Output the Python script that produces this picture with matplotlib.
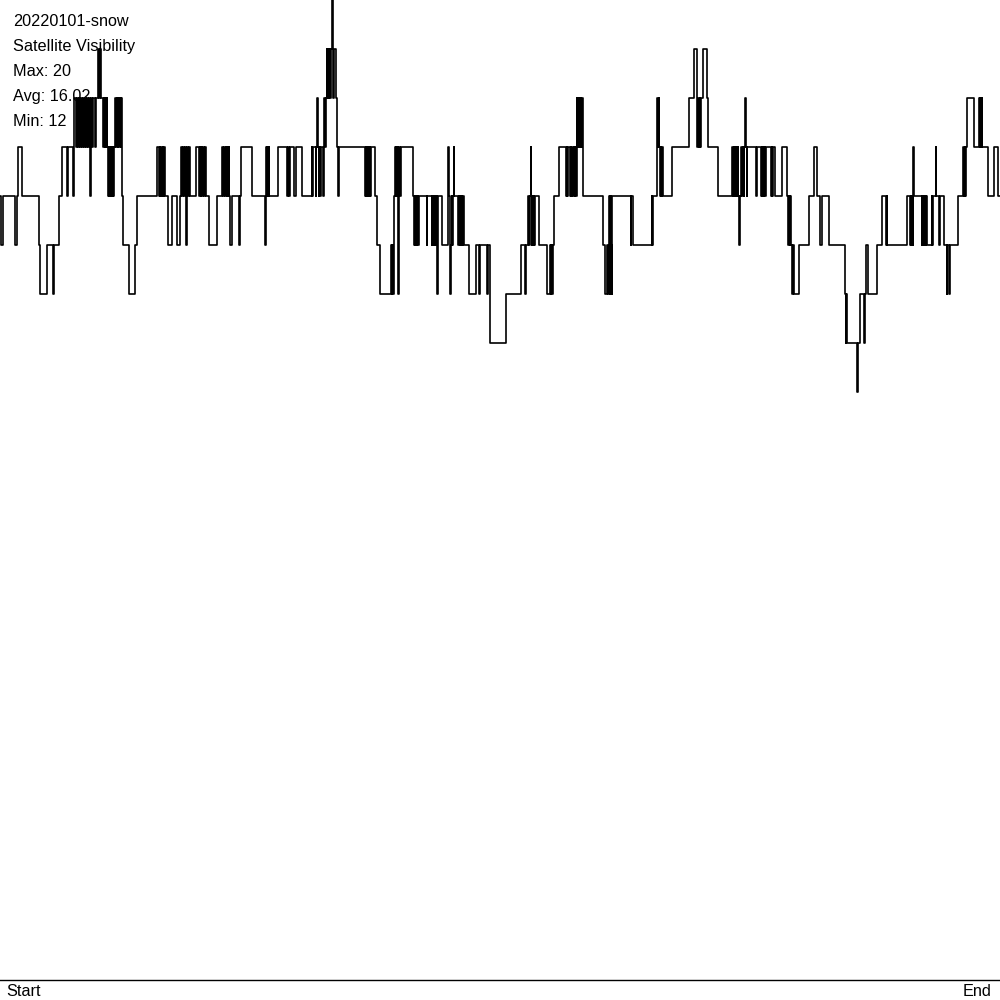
import matplotlib
matplotlib.use("Agg")
import matplotlib.pyplot as plt

# satellite count over the day, (time, count) at each change, time in 0..1000
part1 = [(0, 16), (1, 15), (3, 16), (15, 15), (16.5, 16), (17.5, 17), (21.7, 16), (38.5, 15), (39.5, 14),
         (47, 15), (53, 14), (54.3, 15), (58.5, 16), (61.7, 17), (66.7, 16), (68.3, 17), (72.7, 16), (73.7, 17),
         (74.3, 18), (76, 17), (77.3, 18), (78.3, 17), (79.3, 18), (80, 17), (81, 18), (82, 17), (83, 18),
         (84, 17), (85, 18), (86, 17), (87, 18), (88, 17), (89, 18), (90, 16), (90.7, 17), (91.3, 18), (92, 17),
         (92.7, 18), (95, 17), (95.7, 18), (98, 19), (99, 18), (99.7, 19), (100.7, 18), (103, 17), (103.7, 18),
         (104.5, 17), (105.3, 18), (106, 17), (106.7, 18), (107.3, 17), (108, 16), (108.7, 17), (109.3, 16),
         (110, 17), (110.7, 16), (111.3, 17), (112, 16), (112.7, 17), (113.3, 16), (114, 17), (114.7, 18),
         (116, 17), (116.7, 18), (117.5, 17), (118.3, 18), (119, 17), (119.7, 18), (120.5, 17), (121.3, 18),
         (122, 16), (123.3, 15), (129.3, 14), (135, 15), (136.7, 16)]
part2 = [(156.7, 17), (159, 16), (159.7, 17), (160.3, 16), (161, 17), (162.3, 16), (162.7, 17), (163.3, 16),
         (164.3, 17), (165, 16), (168.3, 15), (172.3, 16), (177.3, 15), (180, 16), (181, 17), (182, 16), (183, 17),
         (184, 16), (185, 17), (186, 15), (186.7, 16), (187.3, 17), (188, 16), (189, 17), (190, 16), (195.7, 17),
         (199, 16), (199.7, 17), (200.5, 16), (201.3, 17), (202, 16), (203, 17), (204, 16), (205, 17), (206, 16),
         (209, 15), (216.7, 16), (221.7, 17), (223.3, 16), (224, 17), (225, 16), (225.5, 17), (226.7, 16),
         (227.3, 17), (228, 16), (228.5, 17), (229.3, 16), (229.7, 15), (231.7, 16), (239, 15), (239.7, 16),
         (240.7, 17), (252.3, 16), (265, 15), (265.7, 16), (266, 17), (266.7, 16), (267.3, 17), (268, 16),
         (268.7, 17), (269.3, 16), (277.7, 17), (287.3, 16), (288.2, 17), (289, 16), (290, 17), (294.3, 16),
         (295.7, 17), (301.7, 16), (311.7, 17), (312.3, 16), (313, 17), (315.7, 16), (316.3, 17), (316.7, 18),
         (318, 17), (318.5, 16), (319, 17), (320, 16), (320.5, 17), (323.3, 16), (323.8, 17), (324.3, 18),
         (325, 17), (325.7, 18), (326.7, 19), (327.3, 18), (328, 19), (328.7, 18), (329.3, 19), (330, 18),
         (330.7, 19), (332.3, 20), (332.8, 19), (333.3, 18), (334.3, 19), (335.7, 18), (337.3, 17), (338, 16),
         (338.5, 17)]
part3 = [(365, 16), (365.7, 17), (366.3, 16), (367, 17), (367.7, 16), (368.3, 17), (369, 16), (369.7, 17),
         (370.3, 16), (370.7, 17), (375, 16), (376.7, 15), (380, 14), (391, 15), (391.7, 14), (392.3, 15),
         (393, 14), (393.5, 15), (394.3, 16), (395, 17), (395.7, 16), (396.3, 17), (397, 16), (397.7, 17),
         (398.3, 14), (398.7, 16), (399.3, 17), (400, 16), (400.7, 17), (413.3, 16), (414, 15), (414.7, 16),
         (415.3, 15), (416, 16), (416.7, 15), (417.3, 16), (418, 15), (418.7, 16), (426.7, 15), (427.2, 16),
         (431.7, 15), (432.3, 16), (433, 15), (433.7, 16), (434.3, 15), (435, 16), (435.7, 15), (436.3, 16),
         (437.3, 14), (437.8, 15), (438.3, 16), (441.7, 15), (448.3, 17), (449, 16), (449.7, 15), (450.3, 14),
         (450.8, 15), (451.5, 16), (452.2, 15), (453, 16), (453.5, 17), (454.3, 16), (458.3, 15), (459, 16),
         (459.7, 15), (460.3, 16), (461, 15), (461.7, 16), (462.3, 15), (463, 16), (464, 15), (469.3, 14),
         (475.7, 15), (479, 14), (480.3, 15), (486.7, 14), (488, 15), (490, 13)]
part4 = [(506, 14), (520.7, 15), (525, 14), (526, 15), (528.3, 16), (529, 15), (529.7, 16), (530.5, 17),
         (531, 16), (531.7, 15), (532.3, 16), (533, 15), (533.7, 16), (534.3, 15), (535, 16), (539.3, 15),
         (546.7, 14), (550, 15), (550.7, 14), (551.3, 15), (552, 14), (552.7, 15), (554.3, 16), (559.3, 17),
         (566, 16), (566.7, 17), (567.3, 16), (568, 17), (570, 16), (570.7, 17), (571.3, 16), (572, 17),
         (573.3, 16), (574, 17), (574.7, 16), (575.3, 17), (576, 16), (576.7, 18), (577.3, 17), (578, 18),
         (578.7, 17), (579.3, 18), (580, 17), (580.7, 18), (581.3, 17), (582, 18), (582.7, 16), (603.3, 15),
         (605, 14), (606.7, 15), (608.3, 14), (609, 16), (609.7, 14), (610.3, 16), (611, 15), (611.7, 14),
         (612.3, 16), (630.7, 15), (631.3, 16), (633.3, 15), (651.7, 16), (652.3, 15), (653, 16), (656.7, 17),
         (657.3, 18), (658, 17), (658.5, 18), (659, 17), (660, 16), (660.7, 17), (661.3, 16), (662, 17),
         (662.7, 16)]
part5 = [(672.3, 17), (689.3, 18), (694.3, 19), (696.7, 18), (697.3, 17), (697.8, 18), (699, 17), (699.7, 18),
         (700.3, 17), (701, 18), (703.3, 19), (706.7, 18), (708.3, 17), (718.3, 16), (732.3, 17), (733, 16),
         (733.7, 17), (734.3, 16), (735, 17), (735.7, 16), (736.3, 17), (737, 16), (737.7, 17), (738.3, 16),
         (739.3, 15), (739.8, 16), (740.5, 17), (742.3, 16), (743, 17), (743.7, 16), (744.3, 17), (745, 18),
         (746, 17), (746.7, 16), (747.3, 17), (756, 16), (756.5, 17), (761, 16), (761.7, 17), (762.3, 16),
         (763, 17), (763.7, 16), (764.3, 17), (765.3, 16), (766, 17), (771, 16), (771.7, 17), (772.3, 16),
         (772.7, 17), (775, 16), (782.3, 17), (787.3, 16), (788.3, 15), (789, 16), (789.7, 15), (790.3, 16),
         (791, 15), (791.7, 14), (792.7, 15), (794.3, 14), (799.3, 15), (809.3, 16), (814.3, 17), (816.7, 16),
         (820, 15), (821.7, 16), (829.3, 15)]
part6 = [(845, 14), (845.7, 13), (846.3, 14), (847, 13), (856.7, 12), (858, 13), (860, 14), (864.3, 13),
         (865, 14), (865.7, 15), (868.3, 14), (877.3, 15), (881.7, 16), (886, 15), (886.7, 16), (887.3, 15),
         (907.3, 16), (910, 15), (910.7, 16), (911.3, 15), (912, 16), (912.7, 15), (913, 16), (913.3, 17),
         (913.8, 16), (921.7, 15), (922.3, 16), (923, 15), (923.7, 16), (924.3, 15), (925, 16), (925.7, 15),
         (926.3, 16), (927, 15), (931.7, 16), (932.3, 15), (933, 16), (935.7, 17), (936.2, 16), (939.3, 15),
         (939.8, 16), (944.3, 15), (946.7, 14), (947.2, 15), (949.3, 14), (950, 15), (957.7, 16), (963.3, 17),
         (964, 16), (964.7, 17), (965.3, 16), (965.7, 17), (966.7, 18), (974, 17), (979, 18), (979.7, 17),
         (980.3, 18), (981, 17), (981.7, 18), (982.3, 17), (988.3, 16), (994.3, 17), (997.7, 16)]

title = "20220101-snow"
subtitle = "Satellite Visibility"
sat_max = 20
sat_avg = 16.02
sat_min = 12

steps = part1 + part2 + part3 + part4 + part5 + part6
t = [p[0] for p in steps] + [1000]
n = [p[1] for p in steps] + [steps[-1][1]]

fig = plt.figure(figsize=(10, 10), dpi=100)
ax = fig.add_axes([0, 0.02, 1, 0.98])
ax.step(t, n, where="post", color="black", lw=1.2)
ax.set_xlim(0, 1000)
ax.set_ylim(0, 20)
ax.set_xticks([])
ax.set_yticks([])
for s in ["top", "left", "right"]:
    ax.spines[s].set_visible(False)
ax.spines["bottom"].set_linewidth(1.0)

font = dict(fontsize=11.7, family=["Liberation Sans", "DejaVu Sans"], va="baseline", color="black")
lines = [title, subtitle, "Max: %d" % sat_max, "Avg: %.2f" % sat_avg, "Min: %d" % sat_min]
for i, s in enumerate(lines):
    fig.text(0.013, 1 - (0.0265 + 0.025 * i), s, **font)

fig.text(0.006, 0.004, "Start", ha="left", **font)
fig.text(0.992, 0.004, "End", ha="right", **font)

fig.savefig("out.png", dpi=100)
